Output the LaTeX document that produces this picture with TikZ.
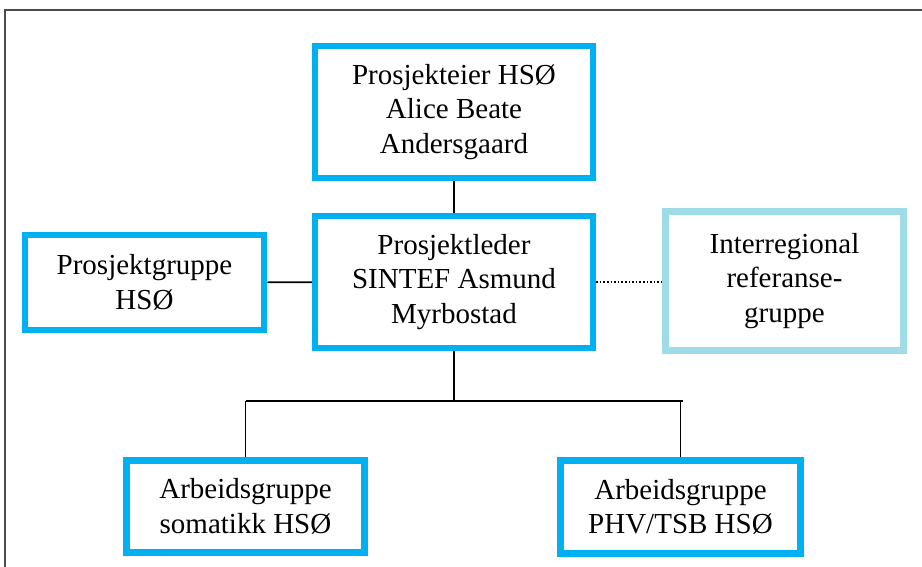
\documentclass[tikz,border=0pt]{standalone}
\usepackage{fontspec}
\setmainfont{Liberation Serif}
\usepackage{xcolor}
\usetikzlibrary{calc,positioning}
\definecolor{hsoblue}{HTML}{00B0F0}
\definecolor{reflight}{HTML}{A0DCE8}
\tikzset{
  unit/.style={ % image of an organisational unit
    draw=hsoblue, line width=6.5pt, rectangle,
    align=center, text=black, fill=white,
    font=\fontsize{29}{34.5}\selectfont
  },
  refunit/.style={ % image of the reference group
    unit, draw=reflight
  },
  link/.style={
    line width=1.6pt, black
  }
}

\begin{document}
\begin{tikzpicture}[x=1pt,y=-1pt]
    \useasboundingbox (0,0) rectangle (922,567);
    \draw[gray!60!black, line width=2pt] (5,567) -- (5,10) -- (922,10);

    \node[unit, minimum width=278pt, minimum height=132pt] (eier) at (454,112) {Prosjekteier HSØ\\Alice Beate\\Andersgaard};
    \node[unit, minimum width=278pt, minimum height=132pt] (leder) at (454,282) {Prosjektleder\\SINTEF Asmund\\Myrbostad};
    \node[unit, minimum width=239pt, minimum height=95pt] (gruppe) at (144.5,282.5) {Prosjektgruppe\\HSØ};
    \node[refunit, minimum width=238pt, minimum height=139pt] (ref) at (784.5,281) {Interregional\\referanse-\\gruppe};
    \node[unit, minimum width=238pt, minimum height=92pt] (somatikk) at (245.5,506.5) {Arbeidsgruppe\\somatikk HSØ};
    \node[unit, minimum width=240pt, minimum height=93pt] (phv) at (680.5,507) {Arbeidsgruppe\\PHV/TSB HSØ};

    \coordinate (bus) at (454,401);

    \draw[link] (eier) -- (leder);
    \draw[link] (gruppe) -- (leder);
    \draw[link, dotted] (leder.east) -- (ref.west |- leder.east);
    \draw[link] (leder.south) -- (bus);
    \draw[link] (somatikk.north |- bus) -- ($(phv.north |- bus)+(2,0)$);
    \draw[link] (somatikk.north) -- (somatikk.north |- bus);
    \draw[link] (phv.north) -- (phv.north |- bus);
  \end{tikzpicture}
\end{document}
